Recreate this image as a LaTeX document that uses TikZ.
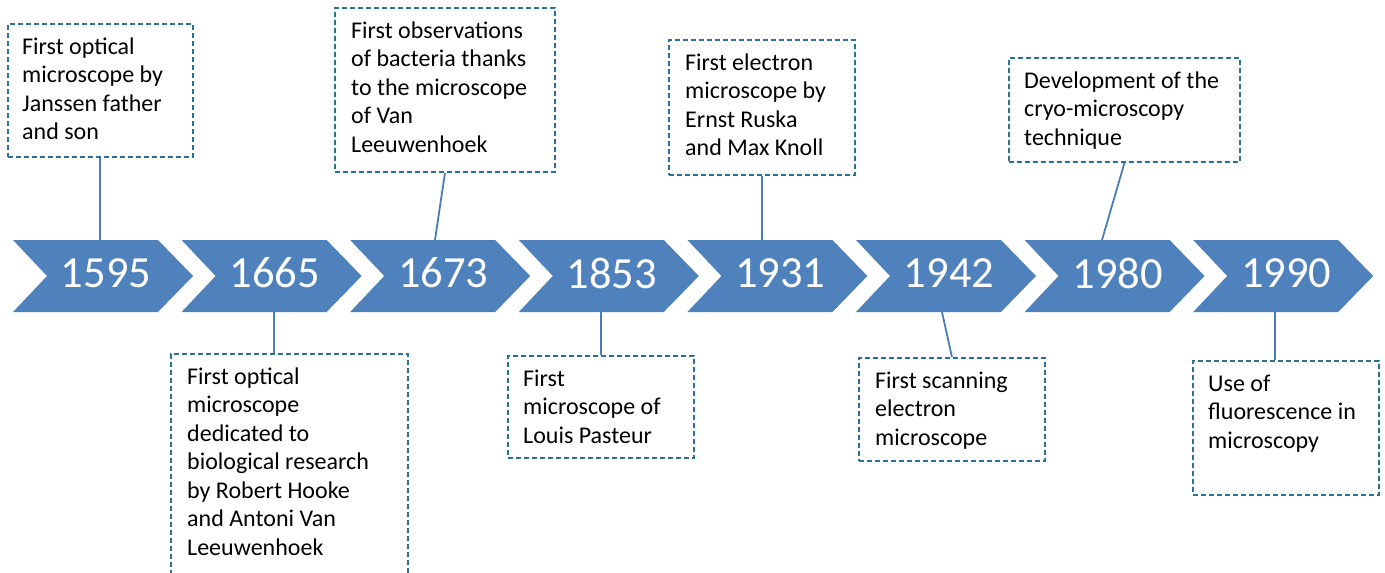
\documentclass[tikz,border=0pt]{standalone}
\usepackage{fontspec}
\setmainfont{Carlito}
\definecolor{chev}{RGB}{79,129,189}
\definecolor{boxc}{RGB}{42,112,152}
\definecolor{linec}{RGB}{74,124,184}
\begin{document}
\begin{tikzpicture}[x=1pt,y=-1pt,
  chevron/.style={fill=chev},
  year/.style={text=white,font=\fontsize{44.5}{44.5}\selectfont,inner sep=0pt,anchor=center},
  evbox/.style={draw=boxc,dash pattern=on 5pt off 3pt,line width=1.9pt,inner sep=0pt,fill=white,anchor=north west},
  evtext/.style={font=\fontsize{24}{28.5}\selectfont,align=left,anchor=north west,inner sep=0pt,text=black},
  link/.style={draw=linec,line width=1.8pt}]
\useasboundingbox[fill=white] (0,0) rectangle (1385,573);
\clip (0,0) rectangle (1385,573);
% chevrons
\foreach \i/\yr in {0/1595,1/1665,2/1673,3/1853,4/1931,5/1942,6/1980,7/1990}{
  \pgfmathsetmacro\L{13+168.6*\i}
  \fill[chevron] (\L,240) -- ++(145,0) -- ++(35,36) -- ++(-35,36) -- ++(-145,0) -- ++(34,-36) -- cycle;
  \node[year] (y\i) at (\L+93,273) {\yr};
}
% connector end points on chevrons
\coordinate (c1) at (100,240);
\coordinate (c2) at (274,312);
\coordinate (c3) at (435,240);
\coordinate (c4) at (601,312);
\coordinate (c5) at (762,240);
\coordinate (c6) at (942,312);
\coordinate (c7) at (1102,240);
\coordinate (c8) at (1275,312);
% boxes
\node[evbox,minimum width=185,minimum height=133] (b1) at (7,23) {};
\node[evbox,minimum width=237,minimum height=230] (b2) at (170,353) {};
\node[evbox,minimum width=220,minimum height=164] (b3) at (334,7) {};
\node[evbox,minimum width=186,minimum height=102] (b4) at (507,355) {};
\node[evbox,minimum width=186,minimum height=135] (b5) at (668,39) {};
\node[evbox,minimum width=186,minimum height=103] (b6) at (858,357) {};
\node[evbox,minimum width=231,minimum height=104] (b7) at (1008,57) {};
\node[evbox,minimum width=186,minimum height=134] (b8) at (1192,360) {};
% texts
\node[evtext] (t1) at (22,34) {\strut First optical\\microscope by\\Janssen father\\and son};
\node[evtext] (t2) at (187,364) {\strut First optical\\microscope\\dedicated to\\biological research\\by Robert Hooke\\and Antoni Van\\Leeuwenhoek};
\node[evtext] (t3) at (351,18) {\strut First observations\\of bacteria thanks\\to the microscope\\of Van\\Leeuwenhoek};
\node[evtext] (t4) at (523,366) {\strut First\\microscope of\\Louis Pasteur};
\node[evtext] (t5) at (685,50) {\strut First electron\\microscope by\\Ernst Ruska\\and Max Knoll};
\node[evtext] (t6) at (875,368) {\strut First scanning\\electron\\microscope};
\node[evtext] (t7) at (1024,68) {\strut Development of the\\cryo-microscopy\\technique};
\node[evtext] (t8) at (1208,371) {\strut Use of\\fluorescence in\\microscopy};
% connectors
\draw[link] (b1.south -| c1) -- (c1);
\draw[link] (b2.north -| c2) -- (c2);
\draw[link] (b3.south) -- (c3);
\draw[link] (b4.north -| c4) -- (c4);
\draw[link] (b5.south -| c5) -- (c5);
\draw[link] (b6.north) -- (c6);
\draw[link] (b7.south) -- (c7);
\draw[link] (b8.north -| c8) -- (c8);
\end{tikzpicture}
\end{document}
